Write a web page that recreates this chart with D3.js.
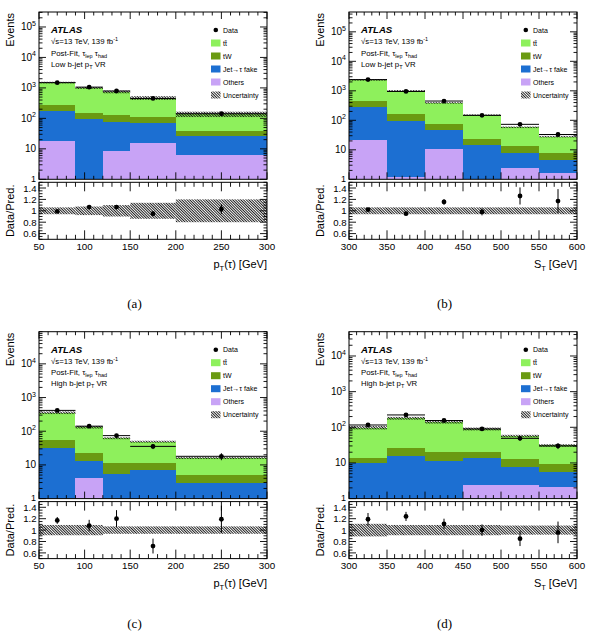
<!DOCTYPE html>
<html><head><meta charset="utf-8">
<script src="https://cdn.jsdelivr.net/npm/d3@7"></script>
<style>
body{margin:0;background:#fff}
svg{display:block}
text{font-family:"Liberation Sans",Arial,Helvetica,sans-serif;fill:#000}
.cap{font-family:"Liberation Serif","DejaVu Serif",serif}
</style></head><body>
<svg id="c" width="594" height="633"></svg>
<script>
// ---------------- DATA ----------------
const edgesPt = [50, 90, 120, 150, 200, 300];
const edgesSt = [300, 350, 400, 450, 500, 550, 600];
const xTicksPt = [50, 100, 150, 200, 250, 300];
const xTicksSt = [300, 350, 400, 450, 500, 550, 600];
const ratioTickLabels = ["0.6", "0.8", "1", "1.2", "1.4"];
const legendLabels = ["Data", "tt\u0304", "tW", "Jet\u2192\u03c4 fake", "Others", "Uncertainty"];

// (a) pT(tau), low b-jet pT VR
const othersA = [17.5, 0, 8.5, 15, 6.3];
const jetA    = [156, 98, 69.5, 58, 19.7];
const twA     = [91, 55, 48, 38, 13];
const ttA     = [1235, 847, 614, 359, 99];
const dataA   = [1490, 1060, 790, 450, 142];
const dataErrA = [39, 33, 28, 21, 12];
const ratioA  = [0.99, 1.065, 1.065, 0.95, 1.03];
const ratioErrA = [0.026, 0.033, 0.038, 0.045, 0.085];
const bandA   = [0.06, 0.075, 0.10, 0.14, 0.20];

// (b) ST, low b-jet pT VR
const othersB = [22, 1.2, 11, 0, 2.4, 1.6];
const jetB    = [258, 93.8, 37, 14, 5.2, 2.8];
const twB     = [160, 73, 25, 10, 5.4, 3.1];
const ttB     = [1910, 832, 317, 126, 45, 20.5];
const dataB   = [2400, 950, 450, 147, 73, 33];
const dataErrB = [49, 31, 21, 12, 8.5, 5.7];
const ratioB  = [1.02, 0.95, 1.155, 0.98, 1.26, 1.17];
const ratioErrB = [0.02, 0.03, 0.05, 0.06, 0.15, 0.21];
const bandB   = [0.06, 0.06, 0.06, 0.06, 0.06, 0.06];

// (c) pT(tau), high b-jet pT VR
const othersC = [0, 4.0, 0, 0, 0];
const jetC    = [32, 9, 5.5, 7, 3];
const twC     = [22, 9, 6.2, 4.7, 2];
const ttC     = [301, 110, 50.3, 37.3, 11];
const dataC   = [415, 141, 74, 35.5, 18];
const dataErrC = [20, 12, 8.6, 6, 4.2];
const ratioC  = [1.17, 1.08, 1.2, 0.72, 1.19];
const ratioErrC = [0.06, 0.1, 0.15, 0.13, 0.24];
const bandC   = [0.09, 0.09, 0.065, 0.065, 0.065];

// (d) ST, high b-jet pT VR
const othersD = [0, 0, 0, 2.4, 2.4, 2.1];
const jetD    = [9.7, 15.5, 11.5, 11, 5.1, 3.5];
const twD     = [3.8, 10.1, 9.1, 7.2, 5.1, 3.7];
const ttD     = [84.5, 154.4, 119.4, 69.4, 44.4, 21.7];
const dataD   = [116, 222, 155, 90, 49, 30];
const dataErrD = [10.8, 14.9, 12.4, 9.5, 7, 5.5];
const ratioD  = [1.19, 1.24, 1.11, 1.0, 0.85, 0.96];
const ratioErrD = [0.11, 0.08, 0.09, 0.1, 0.13, 0.19];
const bandD   = [0.11, 0.09, 0.09, 0.09, 0.08, 0.08];

const yMaxes = [3.1e5, 4.7e5, 9e4, 4.8e4];
// ---------------------------------------

const colTT = "#8ef05c", colTW = "#6a9a12", colJet = "#1c6fd2", colOth = "#c8a3f6";
const svg = d3.select("#c");
const defs = svg.append("defs");
const pat = defs.append("pattern").attr("id", "hatch").attr("patternUnits", "userSpaceOnUse")
  .attr("width", 1.9).attr("height", 1.9).attr("patternTransform", "rotate(-45)");
pat.append("line").attr("x1", 0.5).attr("y1", -1).attr("x2", 0.5).attr("y2", 4)
  .attr("stroke", "#000").attr("stroke-width", 0.85);

function line(g, x1, y1, x2, y2, w) {
  g.append("line").attr("x1", x1).attr("y1", y1).attr("x2", x2).attr("y2", y2)
    .attr("stroke", "#000").attr("stroke-width", w || 1);
}

function panel(cfg) {
  const {L, R, T, MB, RT, RB} = cfg;
  const g = svg.append("g");
  const e = cfg.edges;
  const x = d3.scaleLinear().domain([e[0], e[e.length - 1]]).range([L, R]);
  const y = d3.scaleLog().domain([1, cfg.yMax]).range([MB, T]).clamp(true);
  const yr = d3.scaleLinear().domain([0.5, 1.5]).range([RB, RT]).clamp(true);
  const cid = "clip" + cfg.id;
  defs.append("clipPath").attr("id", cid + "m").append("rect")
    .attr("x", L).attr("y", T).attr("width", R - L).attr("height", MB - T);
  defs.append("clipPath").attr("id", cid + "r").append("rect")
    .attr("x", L).attr("y", RT).attr("width", R - L).attr("height", RB - RT);
  const gm = g.append("g").attr("clip-path", `url(#${cid}m)`);
  const gr = g.append("g").attr("clip-path", `url(#${cid}r)`);

  const bins = d3.range(e.length - 1).map(i => ({i, x0: e[i], x1: e[i + 1]}));
  const comps = [{v: cfg.oth, c: colOth}, {v: cfg.jet, c: colJet}, {v: cfg.tw, c: colTW}, {v: cfg.tt, c: colTT}];
  bins.forEach(b => {
    let cum = 0;
    comps.forEach(cp => {
      const lo = cum, hi = cum + cp.v[b.i];
      cum = hi;
      if (hi <= lo) return;
      const y0 = y(Math.max(lo, 1e-6)), y1 = y(hi);
      gm.append("rect").attr("x", x(b.x0)).attr("width", x(b.x1) - x(b.x0))
        .attr("y", y1).attr("height", Math.max(0, y0 - y1)).attr("fill", cp.c)
        .attr("shape-rendering", "crispEdges");
    });
    b.tot = cum;
  });
  bins.forEach(b => {
    const u = cfg.band[b.i];
    const yt = y(b.tot * (1 + u)), yb = y(b.tot * (1 - u));
    gm.append("rect").attr("x", x(b.x0)).attr("width", x(b.x1) - x(b.x0))
      .attr("y", yt).attr("height", yb - yt).attr("fill", "url(#hatch)");
  });
  bins.forEach(b => {
    const d = cfg.data[b.i], er = cfg.dataErr[b.i], xc = x((b.x0 + b.x1) / 2);
    line(gm, x(b.x0), y(d), x(b.x1), y(d), 1);
    line(gm, xc, y(d - er), xc, y(d + er), 1);
    gm.append("circle").attr("cx", xc).attr("cy", y(d)).attr("r", 2.4).attr("fill", "#000");
  });
  bins.forEach(b => {
    const u = cfg.band[b.i];
    gr.append("rect").attr("x", x(b.x0)).attr("width", x(b.x1) - x(b.x0))
      .attr("y", yr(1 + u)).attr("height", yr(1 - u) - yr(1 + u)).attr("fill", "url(#hatch)");
  });
  bins.forEach(b => {
    const r = cfg.ratio[b.i], er = cfg.ratioErr[b.i], xc = x((b.x0 + b.x1) / 2);
    line(gr, xc, yr(r - er), xc, yr(r + er), 1);
    gr.append("circle").attr("cx", xc).attr("cy", yr(r)).attr("r", 2.4).attr("fill", "#000");
  });

  [[T, MB], [RT, RB]].forEach(([a, bb]) => {
    g.append("rect").attr("x", L).attr("y", a).attr("width", R - L).attr("height", bb - a)
      .attr("fill", "none").attr("stroke", "#000").attr("stroke-width", 1);
  });

  const xMin = e[0], xMax = e[e.length - 1];
  const minorX = d3.range(xMin, xMax + 0.1, 10);
  const ga = g.append("g");
  minorX.forEach(v => {
    const major = cfg.xTicks.includes(v);
    const lm = major ? 7 : 3.5, lr = major ? 9 : 4.5;
    line(ga, x(v), MB, x(v), MB - lm, 0.9);
    line(ga, x(v), T, x(v), T + lm, 0.9);
    line(ga, x(v), RB, x(v), RB - lr, 0.9);
    line(ga, x(v), RT, x(v), RT + lr, 0.9);
  });
  cfg.xTicks.forEach(v => {
    ga.append("text").attr("x", x(v)).attr("y", RB + 10.5).attr("text-anchor", "middle")
      .attr("font-size", 9.8).text(v);
  });
  const dmax = Math.floor(Math.log10(cfg.yMax));
  for (let dd = 0; dd <= dmax + 1; dd++) {
    for (let m = 1; m <= 9; m++) {
      const v = m * Math.pow(10, dd);
      if (v > cfg.yMax) continue;
      const len = m === 1 ? 7 : 3.5;
      line(ga, L, y(v), L + len, y(v), 0.9);
      line(ga, R, y(v), R - len, y(v), 0.9);
    }
  }
  for (let dd = 0; dd <= dmax; dd++) {
    const t = ga.append("text").attr("x", L - 3).attr("y", y(Math.pow(10, dd)) + (dd === 0 ? 2.6 : 3.5))
      .attr("text-anchor", "end").attr("font-size", dd === 0 ? 9 : 10);
    if (dd === 0) t.text("1");
    else if (dd === 1) t.text("10");
    else {
      t.append("tspan").text("10");
      t.append("tspan").attr("dy", -4.5).attr("font-size", 7).text(dd);
    }
  }
  d3.range(0.5, 1.501, 0.05).forEach(v => {
    const major = Math.abs(v * 5 - Math.round(v * 5)) < 1e-6 && v > 0.55 && v < 1.45;
    const len = major ? 7 : 3.5;
    line(ga, L, yr(v), L + len, yr(v), 0.9);
    line(ga, R, yr(v), R - len, yr(v), 0.9);
  });
  ratioTickLabels.forEach(s => {
    ga.append("text").attr("x", L - 2.5).attr("y", yr(+s) + 3.6).attr("text-anchor", "end")
      .attr("font-size", 9.6).text(s);
  });

  g.append("text").attr("transform", `translate(${L - 25},${T + 1}) rotate(-90)`)
    .attr("text-anchor", "end").attr("font-size", 11).text("Events");
  g.append("text").attr("transform", `translate(${L - 25},${(RT + RB) / 2}) rotate(-90)`)
    .attr("text-anchor", "middle").attr("font-size", 11).text("Data/Pred.");
  const xt = g.append("text").attr("x", R).attr("y", RB + 28.5).attr("text-anchor", "end").attr("font-size", 11);
  if (cfg.xVar === "pt") {
    xt.append("tspan").text("p");
    xt.append("tspan").attr("dy", 3).attr("font-size", 7.5).text("T");
    xt.append("tspan").attr("dy", -3).text("(\u03c4) [GeV]");
  } else {
    xt.append("tspan").text("S");
    xt.append("tspan").attr("dy", 3).attr("font-size", 7.5).text("T");
    xt.append("tspan").attr("dy", -3).text(" [GeV]");
  }

  const ax = L + 12;
  g.append("text").attr("x", ax).attr("y", T + 21).attr("font-size", 9.6)
    .attr("font-weight", "bold").attr("font-style", "italic").text("ATLAS");
  const t2 = g.append("text").attr("x", ax).attr("y", T + 32.3).attr("font-size", 7.8);
  t2.append("tspan").text("\u221as=13 TeV, 139 fb");
  t2.append("tspan").attr("dy", -3).attr("font-size", 5.5).text("-1");
  const t3 = g.append("text").attr("x", ax).attr("y", T + 43.5).attr("font-size", 7.8);
  t3.append("tspan").text("Post-Fit, \u03c4");
  t3.append("tspan").attr("dy", 2).attr("font-size", 5.5).text("lep");
  t3.append("tspan").attr("dy", -2).text(" \u03c4");
  t3.append("tspan").attr("dy", 2).attr("font-size", 5.5).text("had");
  const t4 = g.append("text").attr("x", ax).attr("y", T + 54.5).attr("font-size", 7.8);
  t4.append("tspan").text(cfg.region + " b-jet p");
  t4.append("tspan").attr("dy", 2).attr("font-size", 5.5).text("T");
  t4.append("tspan").attr("dy", -2).text(" VR");

  const lx = L + 172, tx = L + 184;
  const rows = [18, 31, 44, 57, 70, 83];
  const fills = [null, colTT, colTW, colJet, colOth, "url(#hatch)"];
  legendLabels.forEach((lab, k) => {
    const cy = T + rows[k];
    if (k === 0) {
      g.append("circle").attr("cx", lx + 4.8).attr("cy", cy).attr("r", 2.3).attr("fill", "#000");
    } else {
      g.append("rect").attr("x", lx).attr("y", cy - 3.5).attr("width", 9.5).attr("height", 7).attr("fill", fills[k]);
    }
    g.append("text").attr("x", tx).attr("y", cy + 2.6).attr("font-size", 7).text(lab);
  });

  svg.append("text").attr("class", "cap").attr("x", L + 95.5).attr("y", RB + 69)
    .attr("text-anchor", "middle").attr("font-size", 13).text(cfg.cap);
}

const geomTop = {T: 12, MB: 179.3, RT: 182.3, RB: 239.3};
const geomBot = {T: 331.7, MB: 498.6, RT: 501.6, RB: 558.6};
panel(Object.assign({id: "a", L: 39, R: 267, edges: edgesPt, xTicks: xTicksPt, xVar: "pt",
  oth: othersA, jet: jetA, tw: twA, tt: ttA, data: dataA, dataErr: dataErrA,
  ratio: ratioA, ratioErr: ratioErrA, band: bandA, yMax: yMaxes[0], region: "Low", cap: "(a)"}, geomTop));
panel(Object.assign({id: "b", L: 349, R: 577, edges: edgesSt, xTicks: xTicksSt, xVar: "st",
  oth: othersB, jet: jetB, tw: twB, tt: ttB, data: dataB, dataErr: dataErrB,
  ratio: ratioB, ratioErr: ratioErrB, band: bandB, yMax: yMaxes[1], region: "Low", cap: "(b)"}, geomTop));
panel(Object.assign({id: "c", L: 39, R: 267, edges: edgesPt, xTicks: xTicksPt, xVar: "pt",
  oth: othersC, jet: jetC, tw: twC, tt: ttC, data: dataC, dataErr: dataErrC,
  ratio: ratioC, ratioErr: ratioErrC, band: bandC, yMax: yMaxes[2], region: "High", cap: "(c)"}, geomBot));
panel(Object.assign({id: "d", L: 349, R: 577, edges: edgesSt, xTicks: xTicksSt, xVar: "st",
  oth: othersD, jet: jetD, tw: twD, tt: ttD, data: dataD, dataErr: dataErrD,
  ratio: ratioD, ratioErr: ratioErrD, band: bandD, yMax: yMaxes[3], region: "High", cap: "(d)"}, geomBot));
</script>
</body></html>
